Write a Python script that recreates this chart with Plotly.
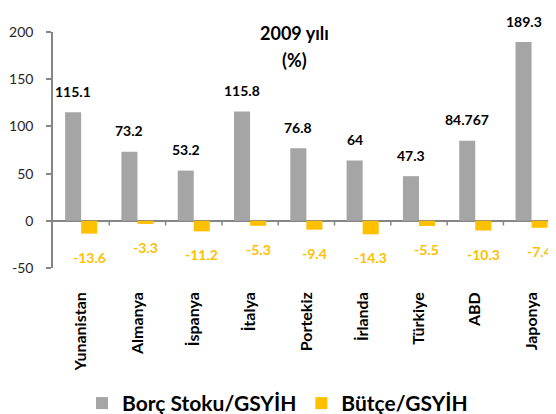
import plotly.graph_objects as go

# Veriler (2009 yılı, %)
ulkeler = ["Yunanistan", "Almanya", "İspanya", "İtalya", "Portekiz",
           "İrlanda", "Türkiye", "ABD", "Japonya"]
borc_stoku = [115.1, 73.2, 53.2, 115.8, 76.8, 64, 47.3, 84.767, 189.3]
butce = [-13.6, -3.3, -11.2, -5.3, -9.4, -14.3, -5.5, -10.3, -7.4]
borc_etiket = ["115.1", "73.2", "53.2", "115.8", "76.8", "64", "47.3", "84.767", "189.3"]
butce_etiket = ["-13.6", "-3.3", "-11.2", "-5.3", "-9.4", "-14.3", "-5.5", "-10.3", "-7.4"]
y_tikler = [-50, 0, 50, 100, 150, 200]
y_tik_etiket = ["-50", "0", "50", "100", "150", "200"]

GRI = "#A5A5A5"
SARI = "#FFC000"
EKSEN = "#868686"
FONT = "Lato"

fig = go.Figure()

fig.add_trace(go.Bar(
    x=ulkeler, y=borc_stoku, name="Borç Stoku/GSYİH",
    marker=dict(color=GRI, line=dict(width=0)), offsetgroup="a"
))
fig.add_trace(go.Bar(
    x=ulkeler, y=butce, name="Bütçe/GSYİH",
    marker=dict(color=SARI, line=dict(width=0)), offsetgroup="b"
))

# Veri etiketleri
for i, ulke in enumerate(ulkeler):
    fig.add_annotation(
        x=i, y=borc_stoku[i], xref="x", yref="y", xshift=-8, yshift=21,
        text=borc_etiket[i], showarrow=False,
        font=dict(family=FONT, size=14, color="black", weight="bold")
    )
    fig.add_annotation(
        x=i, y=butce[i], xref="x", yref="y", xshift=8, yshift=-23.5,
        text=butce_etiket[i], showarrow=False,
        font=dict(family=FONT, size=14, color=SARI, weight="bold")
    )

# Kategori sınırlarındaki küçük tikler
for i in range(len(ulkeler)):
    fig.add_shape(type="line", x0=i + 0.5, x1=i + 0.5, y0=0, y1=-5,
                  xref="x", yref="y", line=dict(color=EKSEN, width=1.5))

# Başlık
fig.add_annotation(x=0.481, y=1.051, xref="paper", yref="paper", showarrow=False,
                   text="2009 yılı",
                   font=dict(family=FONT, size=18, color="black", weight="bold"))
fig.add_annotation(x=0.481, y=0.937, xref="paper", yref="paper", showarrow=False,
                   text="(%)",
                   font=dict(family=FONT, size=18, color="black", weight="bold"))

# sayfa gövdesi 8px kenar boşluğu ekliyor, boyutu ona göre küçült
fig.update_layout(
    width=548, height=406,
    margin=dict(l=45, r=0, t=24, b=146, autoexpand=False),
    paper_bgcolor="white", plot_bgcolor="white",
    barmode="group", bargap=0.43, bargroupgap=0,
    font=dict(family=FONT, color="#262626"),
    legend=dict(
        orientation="h", xref="container", yref="container",
        x=0.135, xanchor="left", y=0.026, yanchor="middle",
        font=dict(family=FONT, size=21, color="black", weight="bold"),
        traceorder="normal", itemclick=False
    ),
    showlegend=True,
)

fig.update_xaxes(
    range=[-0.5, 8.434], automargin=False,
    showgrid=False, showline=False, ticks="", tickangle=-90,
    ticklabelstandoff=20,
    tickfont=dict(family=FONT, size=16, color="black", weight="bold")
)
fig.update_yaxes(
    range=[-50, 200], tickvals=y_tikler, ticktext=y_tik_etiket, automargin=False,
    showgrid=False, showline=True, linecolor=EKSEN, linewidth=1.5,
    ticks="outside", ticklen=5, tickcolor=EKSEN, tickwidth=1.5,
    ticklabelstandoff=10,
    zeroline=True, zerolinecolor=EKSEN, zerolinewidth=1.5,
    tickfont=dict(family=FONT, size=14, color="#262626")
)

fig.write_html("out.html")
